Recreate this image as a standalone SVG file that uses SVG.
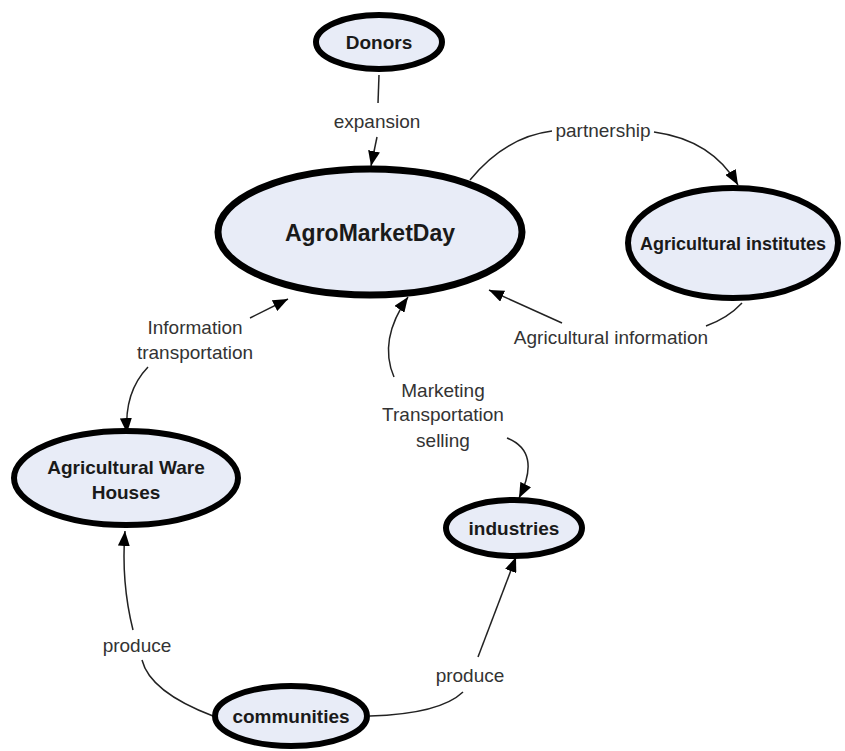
<svg xmlns="http://www.w3.org/2000/svg" width="845" height="751" viewBox="0 0 845 751">
<defs>
<style>
.node ellipse{fill:#e8ecf7;stroke:#000;stroke-width:6}
.node text{font-family:"Liberation Sans",Arial,sans-serif;font-weight:bold;font-size:19px;fill:#1a1a1a;text-anchor:middle}
.edge path{fill:none;stroke:#222;stroke-width:1.5}
.lbl{font-family:"Liberation Sans",Arial,sans-serif;font-size:19px;fill:#333;text-anchor:middle}
</style>
<marker id="arr" markerUnits="userSpaceOnUse" markerWidth="15" markerHeight="12" refX="15" refY="6" orient="auto" viewBox="0 0 15 12">
<path d="M0,0 L15,6 L0,12 z" fill="#000"/>
</marker>
</defs>
<rect width="845" height="751" fill="#fff"/>
<g id="connectors" class="edge">
<path d="M379,75 L378,103"/>
<path d="M377,137 L371,166" marker-end="url(#arr)"/>
<path d="M470,180 Q505,137 552,131"/>
<path d="M654,132 Q712,140 738,185" marker-end="url(#arr)"/>
<path d="M742,303 Q728,318 706,326"/>
<path d="M562,323 L489,290" marker-end="url(#arr)"/>
<path d="M250,318 L288,299" marker-end="url(#arr)"/>
<path d="M148,367 Q124,392 127,433" marker-end="url(#arr)"/>
<path d="M394,377 Q378,340 408,297" marker-end="url(#arr)"/>
<path d="M507,438 Q542,452 519,498" marker-end="url(#arr)"/>
<path d="M213,716 Q150,692 142,660"/>
<path d="M133,630 Q121,582 125,531" marker-end="url(#arr)"/>
<path d="M370,716 Q440,714 463,692"/>
<path d="M478,657 L516,557" marker-end="url(#arr)"/>
</g>
<g id="labels">
<text class="lbl" x="377" y="128">expansion</text>
<text class="lbl" x="603" y="137">partnership</text>
<text class="lbl" x="611" y="344">Agricultural information</text>
<text class="lbl" x="195" y="334">Information</text>
<text class="lbl" x="195" y="359">transportation</text>
<text class="lbl" x="443" y="397">Marketing</text>
<text class="lbl" x="443" y="421">Transportation</text>
<text class="lbl" x="443" y="447">selling</text>
<text class="lbl" x="137" y="652">produce</text>
<text class="lbl" x="470" y="682">produce</text>
</g>
<g id="donors" class="node">
<ellipse cx="379" cy="42" rx="63" ry="27"/>
<text x="379" y="49">Donors</text>
</g>
<g id="agromarketday" class="node">
<ellipse cx="370" cy="232" rx="152" ry="63" style="stroke-width:7"/>
<text x="370" y="241" style="font-size:23px">AgroMarketDay</text>
</g>
<g id="institutes" class="node">
<ellipse cx="733" cy="243" rx="105" ry="55"/>
<text x="733" y="250" style="font-size:18px">Agricultural institutes</text>
</g>
<g id="warehouses" class="node">
<ellipse cx="126" cy="478" rx="112" ry="47"/>
<text x="126" y="474">Agricultural Ware</text>
<text x="126" y="499">Houses</text>
</g>
<g id="industries" class="node">
<ellipse cx="514" cy="528" rx="68" ry="28"/>
<text x="514" y="535">industries</text>
</g>
<g id="communities" class="node">
<ellipse cx="291" cy="716" rx="76" ry="30"/>
<text x="291" y="723">communities</text>
</g>
</svg>
